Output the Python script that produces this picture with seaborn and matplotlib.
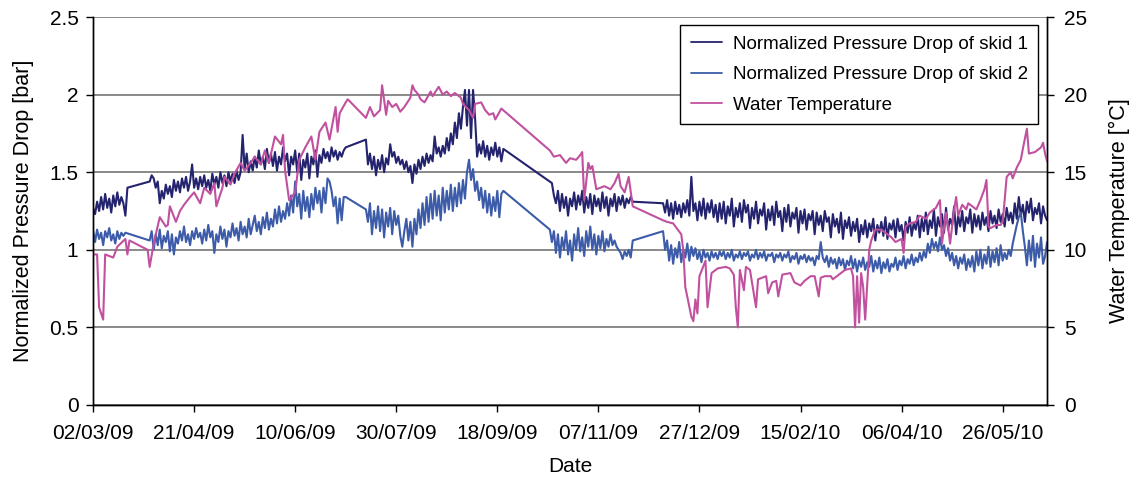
import pandas as pd
import matplotlib
matplotlib.use('Agg')
import matplotlib.pyplot as plt
import matplotlib.dates as mdates
import seaborn as sns

start = pd.Timestamp('2009-03-02')

# skid readings: (first day after 02/03/09, step in days, values); gaps between segments are joined by straight lines
skid1_segments = [
    (0, 1, [1.27, 1.23, 1.31, 1.25, 1.34, 1.26, 1.36, 1.27, 1.33, 1.24, 1.35, 1.28, 1.37, 1.29, 1.34, 1.30, 1.22, 1.40]),
    (28, 1, [1.44, 1.48, 1.46, 1.40, 1.44, 1.30, 1.38, 1.33, 1.42, 1.36,
             1.41, 1.34, 1.45, 1.38, 1.44, 1.37, 1.46, 1.40, 1.47, 1.38,
             1.44, 1.55, 1.40, 1.46, 1.39, 1.47, 1.41, 1.48, 1.40, 1.45,
             1.38, 1.49, 1.42, 1.47, 1.40, 1.50, 1.43, 1.48, 1.41, 1.50,
             1.44, 1.49, 1.43, 1.51, 1.45, 1.50, 1.74, 1.52, 1.62, 1.50,
             1.57, 1.51, 1.60, 1.53, 1.64, 1.55, 1.60, 1.52, 1.65, 1.56,
             1.62, 1.54, 1.63, 1.51, 1.60, 1.55, 1.66, 1.57, 1.62, 1.48,
             1.60, 1.55, 1.64, 1.50, 1.62, 1.45, 1.58, 1.53, 1.62, 1.46,
             1.60, 1.55, 1.64, 1.47, 1.61, 1.56, 1.65, 1.59, 1.63, 1.57,
             1.66, 1.60, 1.64, 1.58, 1.63, 1.60, 1.64, 1.66]),
    (135, 1, [1.71, 1.55, 1.62, 1.52, 1.60, 1.48, 1.58, 1.52, 1.61, 1.50,
              1.59, 1.55, 1.68, 1.60, 1.63, 1.56, 1.60, 1.55, 1.58, 1.52,
              1.57, 1.50, 1.54, 1.43, 1.55, 1.49, 1.58, 1.52, 1.60, 1.54,
              1.62, 1.56, 1.61, 1.57, 1.73, 1.62, 1.66, 1.60, 1.67, 1.62,
              1.72, 1.64, 1.75, 1.68, 1.82, 1.72, 1.88, 1.78, 1.92, 2.03,
              1.80, 2.03, 1.72, 2.03, 1.85, 1.60, 1.68, 1.62, 1.70, 1.60,
              1.67, 1.58, 1.66, 1.61, 1.69, 1.60, 1.66, 1.57, 1.65]),
    (226, 1, [1.44, 1.43, 1.35, 1.30, 1.38, 1.25, 1.36, 1.27, 1.34, 1.22,
              1.33, 1.28, 1.37, 1.26, 1.35, 1.29, 1.38, 1.24, 1.34, 1.27,
              1.36, 1.23, 1.35, 1.28, 1.33, 1.25, 1.37, 1.27, 1.34, 1.22,
              1.33, 1.28, 1.36, 1.25, 1.34, 1.29, 1.35, 1.27, 1.33, 1.30,
              1.34, 1.31]),
    (282, 1, [1.30, 1.24, 1.32, 1.22, 1.30, 1.20, 1.31, 1.23, 1.29, 1.21,
              1.30, 1.24, 1.32, 1.22, 1.47, 1.25, 1.30, 1.19, 1.31, 1.22,
              1.33, 1.20, 1.30, 1.24, 1.32, 1.21, 1.29, 1.18, 1.30,
              1.20, 1.31, 1.17, 1.28, 1.22, 1.33, 1.15, 1.27, 1.21, 1.30,
              1.18, 1.32, 1.24, 1.29, 1.14, 1.27, 1.20, 1.31, 1.17, 1.26,
              1.22, 1.30, 1.13, 1.26, 1.19, 1.28, 1.16, 1.31, 1.21, 1.25,
              1.12, 1.27, 1.18, 1.29, 1.15, 1.24, 1.20, 1.27, 1.11, 1.25,
              1.17, 1.26, 1.13, 1.23, 1.19, 1.25, 1.10, 1.24, 1.16, 1.22,
              1.12, 1.25, 1.18, 1.21, 1.08, 1.23, 1.15, 1.20, 1.11, 1.24,
              1.07, 1.19, 1.14, 1.21, 1.09, 1.18, 1.12, 1.20, 1.05, 1.16,
              1.10, 1.19, 1.08, 1.17, 1.12, 1.20, 1.06, 1.16, 1.11, 1.18,
              1.09, 1.21, 1.07, 1.17, 1.13, 1.19, 1.08, 1.20, 1.12, 1.16,
              1.06, 1.18, 1.11, 1.21, 1.09, 1.17, 1.13, 1.22, 1.08, 1.20,
              1.12, 1.24, 1.10, 1.19, 1.14, 1.26, 1.09, 1.21, 1.15, 1.23,
              1.11, 1.27, 1.13, 1.20, 1.16, 1.28, 1.10, 1.22, 1.15, 1.25,
              1.12, 1.21, 1.17, 1.26, 1.11, 1.23, 1.15, 1.22, 1.13, 1.24,
              1.16, 1.21, 1.12, 1.25, 1.17, 1.22, 1.14, 1.26, 1.18, 1.23,
              1.15, 1.27, 1.19, 1.24, 1.17, 1.30, 1.20, 1.34, 1.22, 1.29,
              1.18, 1.31, 1.24, 1.33, 1.19, 1.27, 1.23, 1.30, 1.17, 1.28,
              1.22, 1.19]),
]

skid2_segments = [
    (0, 1, [1.12, 1.05, 1.13, 1.07, 1.11, 1.03, 1.12, 1.08, 1.14, 1.06, 1.10, 1.04, 1.12, 1.07, 1.11, 1.09, 1.11]),
    (28, 1, [1.06, 1.12, 1.00, 1.10, 1.03, 1.13, 1.01, 1.09, 1.05, 1.12,
             0.99, 1.10, 0.97, 1.08, 1.04, 1.12, 1.06, 1.15, 1.05, 1.10,
             1.03, 1.12, 1.07, 1.14, 1.08, 1.11, 1.04, 1.13, 1.06, 1.16,
             1.08, 1.12, 0.98, 1.10, 1.05, 1.15, 1.07, 1.13, 1.02, 1.12,
             1.08, 1.17, 1.09, 1.14, 1.06, 1.18, 1.10, 1.15, 1.08, 1.20,
             1.10, 1.16, 1.22, 1.12, 1.18, 1.10, 1.21, 1.14, 1.24, 1.13,
             1.20, 1.15, 1.26, 1.17, 1.28, 1.18, 1.25, 1.20, 1.30, 1.22,
             1.35, 1.24, 1.44, 1.28, 1.36, 1.20, 1.38, 1.25, 1.34, 1.21,
             1.36, 1.26, 1.40, 1.30, 1.38, 1.24, 1.40, 1.30, 1.46, 1.44,
             1.38, 1.28, 1.34, 1.17, 1.33, 1.19, 1.34, 1.34]),
    (135, 1, [1.26, 1.18, 1.30, 1.10, 1.25, 1.14, 1.28, 1.12, 1.26, 1.08,
              1.24, 1.15, 1.27, 1.10, 1.25, 1.16, 1.22, 1.09, 1.02, 1.12,
              1.20, 1.06, 1.18, 1.02, 1.20, 1.10, 1.26, 1.14, 1.30, 1.16,
              1.34, 1.18, 1.36, 1.20, 1.38, 1.22, 1.35, 1.19, 1.40, 1.24,
              1.38, 1.26, 1.42, 1.25, 1.40, 1.28, 1.43, 1.30, 1.45, 1.33,
              1.50, 1.58, 1.45, 1.52, 1.38, 1.44, 1.32, 1.40, 1.27, 1.38,
              1.24, 1.36, 1.22, 1.34, 1.25, 1.38, 1.21, 1.36, 1.38]),
    (226, 1, [1.13, 1.05, 1.12, 0.98, 1.10, 0.95, 1.08, 1.00, 1.12, 0.97,
              1.06, 0.93, 1.10, 1.00, 1.14, 0.99, 1.08, 0.96, 1.12, 1.02,
              1.15, 1.00, 1.10, 0.97, 1.09, 1.01, 1.12, 0.99, 1.07, 1.02,
              1.10, 1.03, 1.06, 1.02, 1.00, 0.98, 0.94, 0.99, 0.96, 1.00,
              0.95, 1.06]),
    (282, 1, [1.12, 1.00, 1.06, 0.93, 1.03, 0.91, 1.01, 0.95, 1.05, 0.92,
              1.00, 0.95, 1.04, 0.93, 1.02, 0.96, 1.01, 0.94, 0.99, 0.92,
              1.00, 0.95, 0.98, 0.93, 0.99, 0.95, 0.98, 0.94, 0.99,
              0.96, 0.99, 0.94, 0.98, 0.95, 1.00, 0.93, 0.97, 0.95, 0.99,
              0.94, 0.98, 0.96, 0.99, 0.93, 0.97, 0.95, 1.00, 0.94, 0.98,
              0.95, 0.99, 0.93, 0.97, 0.96, 0.98, 0.92, 0.97, 0.95, 0.98,
              0.93, 0.97, 0.95, 0.99, 0.92, 0.96, 0.94, 0.98, 0.91, 0.96,
              0.94, 0.97, 0.92, 0.96, 0.93, 0.95, 0.90, 0.96, 0.94, 1.05,
              0.95, 0.92, 0.96, 0.89, 0.95, 0.91, 0.94, 0.88, 0.95, 0.90,
              0.94, 0.87, 0.93, 0.90, 0.96, 0.88, 0.94, 0.86, 0.93, 0.89,
              0.95, 0.87, 0.92, 0.89, 0.96, 0.86, 0.93, 0.88, 0.95, 0.85,
              0.92, 0.88, 0.94, 0.86, 0.91, 0.89, 0.95, 0.87, 0.93, 0.90,
              0.96, 0.88, 0.94, 0.91, 0.97, 0.90, 0.95, 0.92, 0.98, 0.93,
              0.99, 0.95, 1.04, 0.98, 1.07, 1.01, 1.05, 0.99, 1.08, 1.00,
              1.03, 0.96, 1.01, 0.93, 0.98, 0.90, 0.96, 0.88, 0.95, 0.91,
              0.97, 0.87, 0.94, 0.89, 0.96, 0.86, 0.99, 0.90, 1.00, 0.88,
              0.97, 0.91, 1.02, 0.89, 0.99, 0.92, 1.01, 0.90, 1.03, 0.93,
              0.98, 0.94, 1.00, 0.96, 1.04, 1.10, 1.16, 1.21, 1.24, 1.12,
              1.02, 0.90, 1.06, 0.93, 1.09, 0.89, 1.04, 0.95, 1.08, 0.91,
              0.96, 1.05]),
]

# water temperature: (day after 02/03/09, degC)
temp_points = [
    (0, 9.7), (2, 9.7), (3, 6.3), (5, 5.5), (6, 9.7), (8, 9.6), (10, 9.5), (12, 10.2), (16, 10.7), (17, 9.7),
    (18, 10.6), (27, 10.0), (28, 8.9), (30, 10.4), (33, 12.1), (36, 11.5), (37, 11.6), (38, 12.8), (41, 11.8),
    (43, 12.5), (45, 12.9), (48, 13.4), (50, 13.7), (53, 13.0), (55, 14.0), (58, 13.6), (60, 14.3), (61, 12.8),
    (64, 14.0), (65, 14.7), (68, 14.2), (70, 14.9), (73, 15.6), (75, 15.1), (78, 15.6), (80, 16.0), (83, 15.5),
    (85, 16.4), (87, 15.6), (90, 17.3), (93, 16.8), (94, 17.4), (95, 15.1), (97, 13.2), (100, 13.7), (102, 15.8),
    (105, 16.6), (108, 17.3), (110, 15.8), (112, 17.6), (115, 18.2), (117, 17.1), (120, 19.2), (121, 17.6),
    (122, 18.8), (125, 19.5), (126, 19.7), (135, 18.5), (137, 19.2), (139, 18.6), (142, 19.0), (143, 20.6),
    (145, 18.7), (146, 19.6), (148, 19.2), (150, 19.4), (152, 18.9), (154, 19.2), (157, 19.8), (158, 20.6),
    (159, 20.3), (161, 20.0), (162, 19.7), (164, 19.5), (167, 20.2), (168, 19.9), (171, 20.5), (173, 20.0),
    (175, 20.2), (177, 19.9), (179, 20.1), (182, 19.8), (183, 19.4), (186, 19.0), (188, 18.5), (189, 19.4),
    (192, 19.5), (194, 19.0), (196, 18.7), (198, 18.8), (199, 18.4), (202, 19.1), (226, 16.4), (228, 16.0),
    (231, 16.1), (234, 15.6), (236, 15.9), (239, 15.8), (241, 16.1), (242, 16.3), (243, 13.2), (245, 15.6),
    (246, 15.2), (247, 15.4), (249, 13.9), (251, 14.0), (253, 14.1), (256, 13.9), (258, 14.3), (260, 14.9),
    (261, 14.1), (263, 13.7), (265, 14.7), (267, 12.8), (282, 11.9), (284, 11.8), (287, 11.7), (291, 11.0),
    (292, 10.0), (293, 7.6), (296, 5.7), (297, 5.4), (298, 6.8), (299, 5.9), (300, 8.3), (303, 9.3), (304, 6.3),
    (306, 8.5), (309, 8.8), (313, 8.9), (315, 8.8), (317, 8.4), (318, 6.3), (319, 5.0), (320, 8.7), (322, 7.4),
    (323, 8.9), (325, 8.7), (328, 6.3), (329, 8.1), (333, 8.3), (334, 7.2), (336, 7.9), (338, 8.0), (339, 7.0),
    (341, 8.4), (345, 8.5), (347, 7.9), (350, 7.7), (352, 8.0), (355, 8.3), (357, 8.3), (359, 7.0), (360, 8.2),
    (362, 8.3), (365, 8.3), (366, 8.1), (370, 8.5), (372, 8.7), (375, 8.8), (376, 8.3), (377, 5.0), (378, 8.3),
    (379, 5.3), (380, 8.5), (381, 7.6), (382, 5.5), (384, 10.0), (385, 10.6), (387, 11.3), (390, 11.3),
    (392, 11.1), (395, 10.8), (397, 10.5), (400, 10.7), (401, 9.8), (402, 11.5), (404, 11.7), (407, 11.8),
    (409, 12.2), (412, 12.0), (414, 12.4), (417, 12.7), (419, 13.2), (420, 10.4), (422, 12.4), (423, 11.5),
    (424, 10.4), (426, 12.6), (427, 13.4), (428, 12.2), (430, 12.9), (432, 12.6), (433, 13.0), (435, 12.8),
    (437, 12.6), (439, 13.2), (441, 13.9), (442, 14.5), (443, 11.5), (444, 11.4), (447, 11.6), (449, 11.6),
    (450, 11.8), (451, 13.2), (452, 14.7), (454, 15.0), (455, 14.6), (457, 15.3), (459, 15.8), (460, 16.5),
    (462, 17.8), (463, 16.2), (466, 16.3), (469, 16.6), (470, 16.9), (471, 16.2), (472, 15.7),
]

tick_dates = ['2009-03-02', '2009-04-21', '2009-06-10', '2009-07-30', '2009-09-18',
              '2009-11-07', '2009-12-27', '2010-02-15', '2010-04-06', '2010-05-26']
end_date = pd.Timestamp('2010-06-17')


def to_frame(segments):
    days, vals = [], []
    for d0, step, v in segments:
        days += [d0 + step * i for i in range(len(v))]
        vals += v
    return pd.DataFrame({'date': start + pd.to_timedelta(days, unit='D'), 'value': vals})


skid1 = to_frame(skid1_segments)
skid2 = to_frame(skid2_segments)
temp = pd.DataFrame(temp_points, columns=['day', 'value'])
temp['date'] = start + pd.to_timedelta(temp['day'], unit='D')

sns.set_style('ticks')
plt.rcParams['font.family'] = ['Liberation Sans', 'DejaVu Sans']
plt.rcParams['text.color'] = 'black'
plt.rcParams['axes.labelcolor'] = 'black'

fig = plt.figure(figsize=(11.32, 4.79), dpi=100)
ax = fig.add_axes([0.0822, 0.1545, 0.8428, 0.81])
ax2 = ax.twinx()

sns.lineplot(data=skid1, x='date', y='value', ax=ax, color='#24236e', lw=1.5,
             label='Normalized Pressure Drop of skid 1', legend=False)
sns.lineplot(data=skid2, x='date', y='value', ax=ax, color='#3c5ba8', lw=1.5,
             label='Normalized Pressure Drop of skid 2', legend=False)
sns.lineplot(data=temp, x='date', y='value', ax=ax2, color='#c1509f', lw=1.5,
             label='Water Temperature', legend=False)

ax.set_xlim(start, end_date)
ax.set_ylim(0, 2.5)
ax2.set_ylim(0, 25)
ax.set_yticks([0, 0.5, 1, 1.5, 2, 2.5])
ax.set_yticklabels(['0', '0.5', '1', '1.5', '2', '2.5'])
ax2.set_yticks([0, 5, 10, 15, 20, 25])

ax.set_xticks([mdates.date2num(pd.Timestamp(t)) for t in tick_dates])
ax.xaxis.set_major_formatter(mdates.DateFormatter('%d/%m/%y'))

ax.yaxis.grid(True, color='#808080', lw=1.3)
ax.set_axisbelow(True)
for a in (ax, ax2):
    a.spines['top'].set_visible(False)
    for s in ('left', 'right', 'bottom'):
        a.spines[s].set_color('black')
        a.spines[s].set_linewidth(1.0)
    a.tick_params(axis='both', direction='out', length=5, width=1.0, color='black',
                  labelsize=15, labelcolor='black')
ax.tick_params(axis='y', pad=5.5)
ax.tick_params(axis='x', pad=9)
ax2.tick_params(axis='y', pad=7)

ax.set_xlabel('Date', fontsize=15, labelpad=10, color='black')
ax.set_ylabel('Normalized Pressure Drop [bar]', fontsize=15.5, labelpad=11, color='black')
ax2.set_ylabel('Water Temperature [°C]', fontsize=15.5, labelpad=16, color='black')

h1, l1 = ax.get_legend_handles_labels()
h2, l2 = ax2.get_legend_handles_labels()
leg = ax2.legend(h1 + h2, l1 + l2, loc='upper right', bbox_to_anchor=(0.9906, 0.979),
                 borderaxespad=0, fontsize=13.5, frameon=True, fancybox=False,
                 edgecolor='black', framealpha=1, handlelength=1.7, handletextpad=0.55,
                 labelspacing=0.72, borderpad=0.55, labelcolor='black')
leg.get_frame().set_linewidth(1.0)
for line in leg.get_lines():
    line.set_linewidth(1.3)

fig.savefig('out.png', dpi=100)
